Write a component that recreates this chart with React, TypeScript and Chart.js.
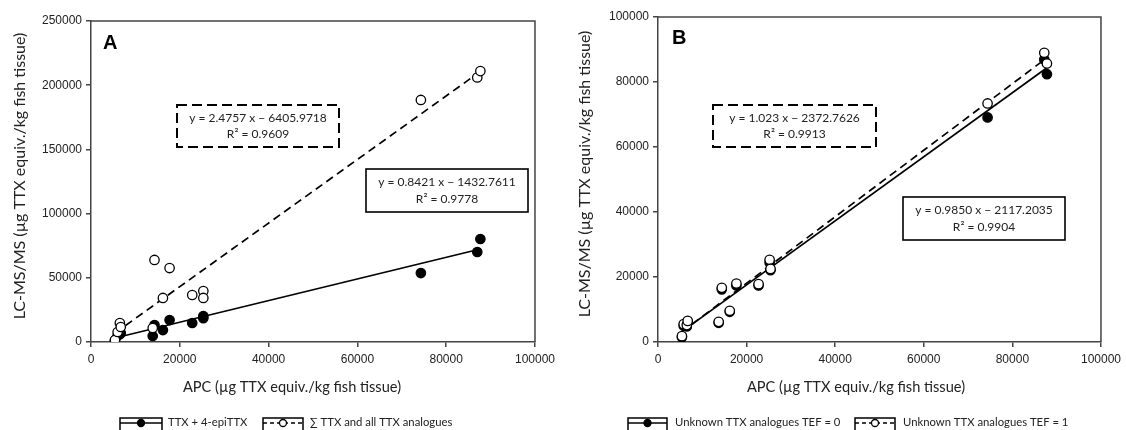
import React, { useEffect, useRef } from "react";
import { Chart, registerables } from "chart.js";

Chart.register(...registerables);

// ---------------- data ----------------
const X_TICKS = [0, 20000, 40000, 60000, 80000, 100000];
const A_Y_TICKS = [0, 50000, 100000, 150000, 200000, 250000];
const B_Y_TICKS = [0, 20000, 40000, 60000, 80000, 100000];

const APC_A = [5400, 6000, 6500, 6700, 13900, 14300, 16200, 17700, 22800, 25300, 25300, 74300, 87000, 87700];
const A_TTX_EPI = [1200, 5000, 6000, 7000, 4700, 13200, 9300, 17100, 14800, 18500, 20200, 53700, 70100, 80200];
const A_SUM_ALL = [1600, 7800, 14800, 11700, 10900, 63900, 34300, 57600, 36600, 39700, 34300, 188500, 206000, 211000];

const APC_B = [5400, 5800, 6500, 6700, 13700, 14400, 16200, 17700, 22700, 25200, 25400, 74400, 87200, 87800];
const B_TEF0 = [1500, 5000, 4800, 6200, 5900, 16200, 9300, 17400, 17400, 24500, 22100, 69100, 86900, 82400];
const B_TEF1 = [1800, 5500, 5200, 6500, 6200, 16700, 9600, 18000, 17800, 25300, 22500, 73400, 89000, 85700];

const A_FIT_SOLID = { slope: 0.8421, intercept: -1432.7611 };
const A_FIT_DASH = { slope: 2.4757, intercept: -6405.9718 };
const B_FIT_SOLID = { slope: 0.985, intercept: -2117.2035 };
const B_FIT_DASH = { slope: 1.023, intercept: -2372.7626 };

const A_EQ_DASH = ["y = 2.4757 x \u2212 6405.9718", "R\u00B2 = 0.9609"];
const A_EQ_SOLID = ["y = 0.8421 x \u2212 1432.7611", "R\u00B2 = 0.9778"];
const B_EQ_DASH = ["y = 1.023 x \u2212 2372.7626", "R\u00B2 = 0.9913"];
const B_EQ_SOLID = ["y = 0.9850 x \u2212 2117.2035", "R\u00B2 = 0.9904"];

const A_LEGEND = ["TTX + 4-epiTTX", "\u2211 TTX and all TTX analogues"];
const B_LEGEND = ["Unknown TTX analogues TEF = 0", "Unknown TTX analogues TEF = 1"];

const X_TITLE = "APC (\u00B5g TTX equiv./kg fish tissue)";
const Y_TITLE = "LC-MS/MS (\u00B5g TTX equiv./kg fish tissue)";

// ---------------- helpers ----------------
const TITLE_FONT = "Lato, 'Open Sans', sans-serif";
const TICK_FONT = "'Liberation Sans', Arial, sans-serif";
const AXIS_COLOR = "#444";

function fitLine(xs: number[], fit: { slope: number; intercept: number }) {
  const lo = Math.min(...xs);
  const hi = Math.max(...xs);
  return [
    { x: lo, y: fit.slope * lo + fit.intercept },
    { x: hi, y: fit.slope * hi + fit.intercept },
  ];
}

type Box = { x0: number; y0: number; x1: number; y1: number; dashed: boolean; lines: string[] };
type PanelSpec = {
  canvasW: number;
  yAxisW: number;
  padTop: number;
  padRight: number;
  yMax: number;
  yTicks: number[];
  xs: number[];
  filled: number[];
  open: number[];
  fitSolid: { slope: number; intercept: number };
  fitDash: { slope: number; intercept: number };
  label: string;
  labelPos: [number, number];
  boxes: Box[];
  legend: string[];
  legendBoxes: [number, number][];
  legendText: number[];
  xTitleX: number;
  yTitlePos: [number, number];
};

function drawSample(ctx: CanvasRenderingContext2D, x0: number, x1: number, dashed: boolean, filledMark: boolean) {
  const y0 = 418, y1 = 433, ym = 423;
  ctx.save();
  ctx.strokeStyle = "#000";
  ctx.lineWidth = 1.5;
  ctx.setLineDash([]);
  ctx.strokeRect(x0, y0, x1 - x0, y1 - y0);
  if (dashed) ctx.setLineDash([4, 3]);
  ctx.lineWidth = 1.7;
  ctx.beginPath();
  ctx.moveTo(x0, ym);
  ctx.lineTo(x1, ym);
  ctx.stroke();
  ctx.setLineDash([]);
  ctx.beginPath();
  ctx.arc((x0 + x1) / 2, ym, 3.5, 0, Math.PI * 2);
  ctx.fillStyle = filledMark ? "#000" : "#fff";
  ctx.fill();
  ctx.lineWidth = 1.3;
  ctx.stroke();
  ctx.restore();
}

function makeOverlay(spec: PanelSpec) {
  return {
    id: "overlay" + spec.label,
    beforeDatasetsDraw(chart: any) {
      const { ctx, chartArea: a } = chart;
      ctx.save();
      ctx.strokeStyle = AXIS_COLOR;
      ctx.lineWidth = 1.5;
      ctx.beginPath();
      ctx.moveTo(a.left, a.top);
      ctx.lineTo(a.right, a.top);
      ctx.lineTo(a.right, a.bottom);
      ctx.stroke();
      ctx.restore();
    },
    afterDraw(chart: any) {
      const { ctx } = chart;
      ctx.save();
      // panel letter
      ctx.fillStyle = "#000";
      ctx.font = "bold 20px " + TICK_FONT;
      ctx.textAlign = "left";
      ctx.textBaseline = "middle";
      ctx.fillText(spec.label, spec.labelPos[0], spec.labelPos[1]);
      // equation boxes
      for (const b of spec.boxes) {
        ctx.fillStyle = "#fff";
        ctx.fillRect(b.x0, b.y0, b.x1 - b.x0, b.y1 - b.y0);
        ctx.strokeStyle = "#000";
        ctx.lineWidth = b.dashed ? 2 : 1.6;
        ctx.setLineDash(b.dashed ? [10, 5] : []);
        ctx.strokeRect(b.x0, b.y0, b.x1 - b.x0, b.y1 - b.y0);
        ctx.setLineDash([]);
        ctx.fillStyle = "#222";
        ctx.font = "12px " + TITLE_FONT;
        ctx.textAlign = "center";
        ctx.textBaseline = "middle";
        const cx = (b.x0 + b.x1) / 2;
        const h = b.y1 - b.y0;
        ctx.fillText(b.lines[0], cx, b.y0 + h * 0.31);
        ctx.fillText(b.lines[1], cx, b.y0 + h * 0.69);
      }
      // axis titles
      ctx.fillStyle = "#222";
      ctx.font = "14.6px " + TITLE_FONT;
      ctx.textAlign = "center";
      ctx.textBaseline = "middle";
      ctx.fillText(X_TITLE, spec.xTitleX, 387);
      ctx.save();
      ctx.translate(spec.yTitlePos[0], spec.yTitlePos[1]);
      ctx.rotate(-Math.PI / 2);
      ctx.font = "16px " + TITLE_FONT;
      ctx.fillText(Y_TITLE, 0, 0);
      ctx.restore();
      // legend
      drawSample(ctx, spec.legendBoxes[0][0], spec.legendBoxes[0][1], false, true);
      drawSample(ctx, spec.legendBoxes[1][0], spec.legendBoxes[1][1], true, false);
      ctx.fillStyle = "#222";
      ctx.font = "11.3px " + TITLE_FONT;
      ctx.textAlign = "left";
      ctx.textBaseline = "middle";
      ctx.fillText(spec.legend[0], spec.legendText[0], 422);
      ctx.fillText(spec.legend[1], spec.legendText[1], 422);
      ctx.restore();
    },
  };
}

function makeConfig(spec: PanelSpec): any {
  const pts = (ys: number[]) => spec.xs.map((x, i) => ({ x, y: ys[i] }));
  const tickFont = { family: TICK_FONT, size: 12 };
  return {
    type: "scatter",
    data: {
      datasets: [
        {
          label: spec.legend[1],
          data: pts(spec.open),
          pointRadius: 4.7,
          pointBackgroundColor: "#fff",
          pointBorderColor: "#000",
          pointBorderWidth: 1.3,
        },
        {
          label: spec.legend[0],
          data: pts(spec.filled),
          pointRadius: 4.7,
          pointBackgroundColor: "#000",
          pointBorderColor: "#000",
          pointBorderWidth: 1.3,
        },
        {
          label: "fit solid",
          data: fitLine(spec.xs, spec.fitSolid),
          showLine: true,
          pointRadius: 0,
          borderColor: "#000",
          borderWidth: 1.7,
        },
        {
          label: "fit dashed",
          data: fitLine(spec.xs, spec.fitDash),
          showLine: true,
          pointRadius: 0,
          borderColor: "#000",
          borderWidth: 1.7,
          borderDash: [8, 5],
        },
      ],
    },
    options: {
      animation: false,
      responsive: false,
      devicePixelRatio: 1,
      layout: { padding: { left: 0, top: spec.padTop, right: spec.padRight, bottom: 38 } },
      plugins: { legend: { display: false }, tooltip: { enabled: false } },
      scales: {
        x: {
          type: "linear",
          min: 0,
          max: 100000,
          afterBuildTicks: (s: any) => {
            s.ticks = X_TICKS.map((v) => ({ value: v }));
          },
          afterFit: (s: any) => {
            s.height = 50;
          },
          ticks: { font: tickFont, color: "#222", padding: 5, maxRotation: 0, callback: (v: any) => String(v) },
          grid: { display: true, drawOnChartArea: false, drawTicks: true, tickLength: 5, color: AXIS_COLOR, lineWidth: 1.5 },
          border: { display: true, color: AXIS_COLOR, width: 1.5 },
        },
        y: {
          type: "linear",
          min: 0,
          max: spec.yMax,
          afterBuildTicks: (s: any) => {
            s.ticks = spec.yTicks.map((v) => ({ value: v }));
          },
          afterFit: (s: any) => {
            s.width = spec.yAxisW;
          },
          ticks: { font: tickFont, color: "#222", padding: 4, callback: (v: any) => String(v) },
          grid: { display: true, drawOnChartArea: false, drawTicks: true, tickLength: 5, color: AXIS_COLOR, lineWidth: 1.5 },
          border: { display: true, color: AXIS_COLOR, width: 1.5 },
        },
      },
    },
    plugins: [makeOverlay(spec)],
  };
}

const SPEC_A: PanelSpec = {
  canvasW: 560,
  yAxisW: 91,
  padTop: 21,
  padRight: 22,
  yMax: 250000,
  yTicks: A_Y_TICKS,
  xs: APC_A,
  filled: A_TTX_EPI,
  open: A_SUM_ALL,
  fitSolid: A_FIT_SOLID,
  fitDash: A_FIT_DASH,
  label: "A",
  labelPos: [103, 43],
  boxes: [
    { x0: 177, y0: 105, x1: 339, y1: 147, dashed: true, lines: A_EQ_DASH },
    { x0: 366, y0: 169, x1: 528, y1: 212, dashed: false, lines: A_EQ_SOLID },
  ],
  legend: A_LEGEND,
  legendBoxes: [
    [120, 162],
    [263, 303],
  ],
  legendText: [168, 310],
  xTitleX: 292,
  yTitlePos: [20, 176],
};

const SPEC_B: PanelSpec = {
  canvasW: 566,
  yAxisW: 98,
  padTop: 17,
  padRight: 23,
  yMax: 100000,
  yTicks: B_Y_TICKS,
  xs: APC_B,
  filled: B_TEF0,
  open: B_TEF1,
  fitSolid: B_FIT_SOLID,
  fitDash: B_FIT_DASH,
  label: "B",
  labelPos: [112, 38],
  boxes: [
    { x0: 153, y0: 105, x1: 316, y1: 147, dashed: true, lines: B_EQ_DASH },
    { x0: 343, y0: 197, x1: 505, y1: 240, dashed: false, lines: B_EQ_SOLID },
  ],
  legend: B_LEGEND,
  legendBoxes: [
    [68, 107],
    [295, 335],
  ],
  legendText: [115, 343],
  xTitleX: 296,
  yTitlePos: [25, 174],
};

function Panel({ spec, left }: { spec: PanelSpec; left: number }) {
  const ref = useRef<HTMLCanvasElement>(null);
  useEffect(() => {
    if (!ref.current) return;
    const chart = new Chart(ref.current, makeConfig(spec));
    return () => chart.destroy();
  }, [spec]);
  return (
    <canvas
      ref={ref}
      width={spec.canvasW}
      height={430}
      style={{ position: "absolute", left, top: 0, width: spec.canvasW, height: 430 }}
    />
  );
}

export default function App() {
  return (
    <div style={{ position: "fixed", left: 0, top: 0, width: 1126, height: 430, background: "#fff", overflow: "hidden" }}>
      <Panel spec={SPEC_A} left={0} />
      <Panel spec={SPEC_B} left={560} />
    </div>
  );
}
